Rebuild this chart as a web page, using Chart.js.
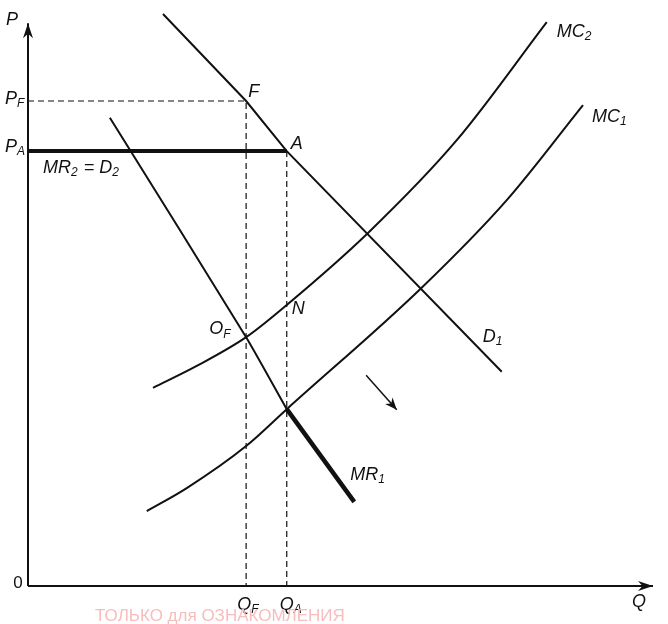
<!DOCTYPE html>
<html>
<head>
<meta charset="utf-8">
<script src="https://cdn.jsdelivr.net/npm/chart.js@4"></script>
<style>
  body { margin: 0; background: #fff; }
  canvas { display: block; }
</style>
</head>
<body>
<canvas id="myChart" width="668" height="624"></canvas>
<script>
// price and quantity (Q and P on a 0..100 scale)
var qF = 34.9, qA = 41.4;
var pF = 84.2, pA = 75.5;

var d1Q = [21.6, 34.9, 41.4, 75.8];
var d1P = [99.3, 84.2, 75.5, 37.2];

var mr1Q = [13.1, 34.9, 41.4];
var mr1P = [81.3, 43.2, 30.7];
var mr1ThickQ = [41.4, 52.2];
var mr1ThickP = [30.7, 14.6];

var mc2Q = [20.0, 27.0, 34.9, 41.4, 54.4, 68.6, 83.0];
var mc2P = [34.4, 38.2, 43.2, 48.8, 61.3, 77.4, 97.9];

var mc1Q = [19.0, 25.4, 34.9, 41.4, 62.9, 76.6, 88.8];
var mc1P = [13.0, 17.0, 24.3, 30.7, 51.7, 67.0, 83.5];

var shiftQ = [54.1, 59.0];
var shiftP = [36.6, 30.6];

function pts(qs, ps) {
  var out = [];
  for (var i = 0; i < qs.length; i++) out.push({x: qs[i], y: ps[i]});
  return out;
}

function line(data, width, extra) {
  var ds = {
    data: data,
    showLine: true,
    borderColor: '#111',
    backgroundColor: '#111',
    borderWidth: width,
    pointRadius: 0,
    tension: 0,
    clip: false
  };
  for (var k in extra) ds[k] = extra[k];
  return ds;
}

var dash = {borderDash: [6, 4]};
var smooth = {cubicInterpolationMode: 'monotone'};

var datasets = [
  line(pts([0, 100], [0, 0]), 1.8, {arrow: true}),
  line(pts([0, 0], [0, 97.7]), 2, {arrow: true}),
  line(pts([0, qF, qF], [pF, pF, 0]), 1.2, dash),
  line(pts([qA, qA], [pA, 0]), 1.2, dash),
  line(pts([0, qA], [pA, pA]), 4, {}),
  line(pts(d1Q, d1P), 2, {}),
  line(pts(mr1Q, mr1P), 2, {tension: 0.2}),
  line(pts(mr1ThickQ, mr1ThickP), 4.5, {}),
  line(pts(mc2Q, mc2P), 2, smooth),
  line(pts(mc1Q, mc1P), 2, smooth),
  line(pts(shiftQ, shiftP), 1.5, {arrow: true})
];

// text labels: main, subscript, anchor q, anchor p, pixel offset
var texts = [
  ['P', '', 0, 97.7, -22, -3],
  ['P', 'F', 0, pF, -23, -2],
  ['P', 'A', 0, pA, -23, -4],
  ['MR', '2', 0, pA, 15, 17, ' = D', '2'],
  ['F', '', qF, pF, 2, -9],
  ['A', '', qA, pA, 4, -7],
  ['N', '', qA, 48.8, 5, 4],
  ['O', 'F', qF, 43.2, -37, -8],
  ['MC', '2', 83.0, 97.9, 10, 10],
  ['MC', '1', 88.8, 83.5, 9, 12],
  ['D', '1', 75.8, 37.2, -19, -35],
  ['MR', '1', 52.2, 14.6, -4, -27],
  ['Q', 'F', qF, 0, -9, 19],
  ['Q', 'A', qA, 0, -7, 19],
  ['Q', '', 100, 0, -21, 16]
];

var drawPlugin = {
  id: 'econ',
  afterDatasetsDraw: function(chart) {
    var ctx = chart.ctx;
    var xs = chart.scales.x, ys = chart.scales.y;
    ctx.save();
    // arrowheads
    chart.data.datasets.forEach(function(ds) {
      if (!ds.arrow) return;
      var n = ds.data.length;
      var a = ds.data[n - 2], b = ds.data[n - 1];
      var x1 = xs.getPixelForValue(a.x), y1 = ys.getPixelForValue(a.y);
      var x2 = xs.getPixelForValue(b.x), y2 = ys.getPixelForValue(b.y);
      var ang = Math.atan2(y2 - y1, x2 - x1);
      var len = ds.borderWidth > 1.6 ? 15 : 12, half = 5;
      ctx.fillStyle = '#111';
      ctx.beginPath();
      ctx.moveTo(x2, y2);
      ctx.lineTo(x2 - len * Math.cos(ang) + half * Math.sin(ang), y2 - len * Math.sin(ang) - half * Math.cos(ang));
      ctx.lineTo(x2 - len * 0.7 * Math.cos(ang), y2 - len * 0.7 * Math.sin(ang));
      ctx.lineTo(x2 - len * Math.cos(ang) - half * Math.sin(ang), y2 - len * Math.sin(ang) + half * Math.cos(ang));
      ctx.closePath();
      ctx.fill();
    });
    // labels
    ctx.fillStyle = '#111';
    ctx.textBaseline = 'middle';
    ctx.textAlign = 'left';
    texts.forEach(function(t) {
      var x = xs.getPixelForValue(t[2]) + t[4];
      var y = ys.getPixelForValue(t[3]) + t[5];
      var parts = [[t[0], t[1]]];
      if (t[6]) parts.push([t[6], t[7]]);
      parts.forEach(function(p) {
        ctx.font = 'italic 18px "Liberation Sans", Arial, sans-serif';
        ctx.fillText(p[0], x, y);
        x += ctx.measureText(p[0]).width;
        if (p[1]) {
          ctx.font = 'italic 12px "Liberation Sans", Arial, sans-serif';
          ctx.fillText(p[1], x, y + 5);
          x += ctx.measureText(p[1]).width + 1;
        }
      });
    });
    ctx.font = '17px "Liberation Sans", Arial, sans-serif';
    ctx.textAlign = 'center';
    ctx.fillText('0', xs.getPixelForValue(0) - 10, ys.getPixelForValue(0) - 3);
    // watermark
    ctx.fillStyle = '#f7bdbd';
    ctx.textAlign = 'left';
    ctx.fillText('ТОЛЬКО для ОЗНАКОМЛЕНИЯ', 95, 616, 253);
    ctx.restore();
  }
};

var ctx = document.getElementById('myChart').getContext('2d');
var myChart = new Chart(ctx, {
  type: 'scatter',
  data: {datasets: datasets},
  options: {
    responsive: false,
    animation: false,
    layout: {padding: {left: 28, right: 15, top: 10, bottom: 38}},
    plugins: {legend: {display: false}, tooltip: {enabled: false}},
    scales: {
      x: {type: 'linear', min: 0, max: 100, display: false},
      y: {type: 'linear', min: 0, max: 100, display: false}
    }
  },
  plugins: [drawPlugin]
});
</script>
</body>
</html>
